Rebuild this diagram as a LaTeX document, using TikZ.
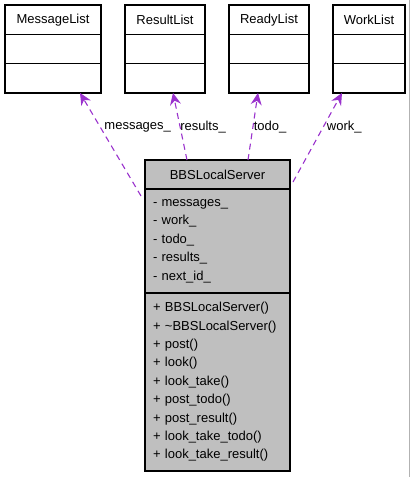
\documentclass[tikz,border=0pt]{standalone}
\usepackage{fontspec}
\setmainfont{Liberation Sans}
\usetikzlibrary{positioning,arrows.meta}

\definecolor{relcolor}{HTML}{9A32CD}
\definecolor{boxgray}{HTML}{BFBFBF}

\tikzset{
  classhead/.style={draw, fill=white, minimum height=29.3pt, inner sep=0pt, outer sep=0pt, line width=1.2pt},
  membpart/.style={draw, fill=boxgray, align=left, inner xsep=8pt, inner ysep=0pt, outer sep=0pt, line width=1.2pt, text width=129pt},
  uses/.style={relcolor, dash pattern=on 6pt off 4.5pt, line width=1.1pt, -{Stealth[length=12pt,width=11pt,inset=4pt]}},
  rolelabel/.style={inner sep=0pt, text=black, yshift=-2pt}
}

\begin{document}
\begin{tikzpicture}[x=1pt,y=-1pt,font=\fontsize{13}{18.4}\selectfont]
\useasboundingbox (0,0) rectangle (411,477);
\draw[gray!60, line width=1pt] (409.5,0) -- (409.5,477);

% the lists used by the server
\node[classhead, minimum width=96pt, anchor=north] (msglist) at (53,5) {MessageList};
\node[classhead, minimum width=96pt, below=0pt of msglist] (msglist-attr) {};
\node[classhead, minimum width=96pt, below=0pt of msglist-attr] (msglist-ops) {};

\node[classhead, minimum width=80pt, anchor=north] (reslist) at (165,5) {ResultList};
\node[classhead, minimum width=80pt, below=0pt of reslist] (reslist-attr) {};
\node[classhead, minimum width=80pt, below=0pt of reslist-attr] (reslist-ops) {};

\node[classhead, minimum width=80pt, anchor=north] (readylist) at (269,5) {ReadyList};
\node[classhead, minimum width=80pt, below=0pt of readylist] (readylist-attr) {};
\node[classhead, minimum width=80pt, below=0pt of readylist-attr] (readylist-ops) {};

\node[classhead, minimum width=72pt, anchor=north] (worklist) at (369,5) {WorkList};
\node[classhead, minimum width=72pt, below=0pt of worklist] (worklist-attr) {};
\node[classhead, minimum width=72pt, below=0pt of worklist-attr] (worklist-ops) {};

% the server class
\node[classhead, fill=boxgray, minimum width=145pt, minimum height=29pt, anchor=north] (server) at (217.5,160) {BBSLocalServer};
\node[membpart, minimum height=104pt, below=0pt of server] (server-attr) {- messages\_\\- work\_\\- todo\_\\- results\_\\- next\_id\_};
\node[membpart, minimum height=178pt, below=0pt of server-attr] (server-ops) {+ BBSLocalServer()\\+ \textasciitilde BBSLocalServer()\\+ post()\\+ look()\\+ look\_take()\\+ post\_todo()\\+ post\_result()\\+ look\_take\_todo()\\+ look\_take\_result()};

% usage relations
\draw[uses] ([xshift=-4pt,yshift=-36pt]server.north west) -- node[rolelabel, pos=0.69, right=5pt] (lbl-msg) {messages\_} ([xshift=27pt]msglist-ops.south);
\draw[uses] ([xshift=-30.5pt]server.north) -- node[rolelabel, pos=0.52, right=0pt] (lbl-res) {results\_} ([xshift=8pt]reslist-ops.south);
\draw[uses] ([xshift=30.5pt]server.north) -- node[rolelabel, pos=0.52, right=0pt] (lbl-todo) {todo\_} ([xshift=-11pt]readylist-ops.south);
\draw[uses] ([xshift=3pt,yshift=-22pt]server.north east) -- node[rolelabel, pos=0.64, right=2pt] (lbl-work) {work\_} ([xshift=-27pt]worklist-ops.south);

\end{tikzpicture}
\end{document}
